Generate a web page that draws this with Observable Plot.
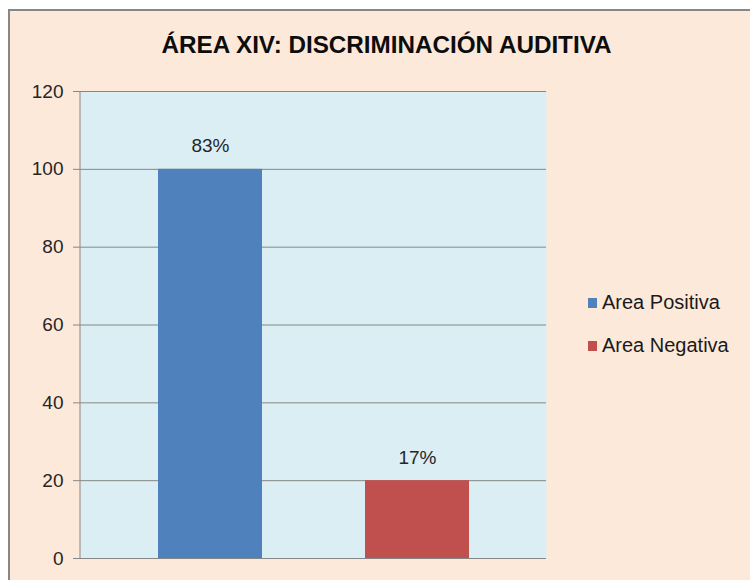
<!DOCTYPE html>
<html>
<head>
<meta charset="utf-8">
<script src="https://cdn.jsdelivr.net/npm/d3@7"></script>
<script src="https://cdn.jsdelivr.net/npm/@observablehq/plot@0.6"></script>
<style>
  html, body { margin: 0; padding: 0; background: #ffffff; }
  #chart { position: relative; width: 750px; height: 580px; overflow: hidden; font-family: "Liberation Sans", Arial, sans-serif; }
  #panel { position: absolute; left: 8px; top: 9px; width: 800px; height: 640px; background: #FDE9D9;
           border-left: 2px solid #878787; border-top: 2px solid #878787; }
  #plotwrap { position: absolute; left: 0; top: 0; }
  #title { position: absolute; left: 0; top: 0; }
  #legend { position: absolute; left: 588px; top: 288px; font-size: 20px; color: #1a1a1a; }
  .item { display: flex; align-items: center; height: 29px; margin-bottom: 14px; white-space: nowrap; }
  .sw { width: 9px; height: 10px; margin-right: 5px; }
  #plotwrap svg g[aria-label="y-axis tick"] path { stroke: #868686; }
</style>
</head>
<body>
<div id="chart">
  <div id="panel"></div>
  <div id="plotwrap"></div>
  <svg id="title" width="750" height="70">
    <text x="386.5" y="53" text-anchor="middle" font-family="'Liberation Sans Narrow','Arial Narrow','Liberation Sans',Arial,sans-serif"
      font-weight="bold" font-size="23" fill="#0d0d0d" textLength="450" lengthAdjust="spacingAndGlyphs">ÁREA XIV: DISCRIMINACIÓN AUDITIVA</text>
  </svg>
  <div id="legend"></div>
</div>
<script>
const series = ["Area Positiva", "Area Negativa"];
const values = [100, 20];
const valueLabels = ["83%", "17%"];
const colors = ["#4F81BD", "#C0504D"];
const yTicks = [0, 20, 40, 60, 80, 100, 120];

const rows = series.map((s, i) => ({series: s, value: values[i], label: valueLabels[i]}));

const leftLine = (index, scales, values, dims) => {
  const g = d3.create("svg:line")
    .attr("x1", dims.marginLeft).attr("x2", dims.marginLeft)
    .attr("y1", dims.marginTop).attr("y2", dims.height - dims.marginBottom)
    .attr("stroke", "#868686").attr("stroke-width", 1);
  return g.node();
};

const chart = Plot.plot({
  width: 750,
  height: 580,
  marginLeft: 80,
  marginRight: 204,
  marginTop: 91,
  marginBottom: 22,
  style: {background: "transparent", fontSize: "19px", fontFamily: "'Liberation Sans', Arial, sans-serif", color: "#262626"},
  x: {domain: series, range: [158, 469], paddingInner: 0.5, paddingOuter: 0, axis: null},
  y: {domain: [0, 120], ticks: yTicks, tickSize: 7, tickPadding: 10, label: null},
  color: {domain: series, range: colors},
  marks: [
    Plot.frame({fill: "#DBEEF4", stroke: "none"}),
    Plot.ruleY(yTicks.filter(d => d > 0), {stroke: "#868686"}),
    Plot.barY(rows, {x: "series", y: "value", fill: "series"}),
    Plot.ruleY([0], {stroke: "#868686"}),
    leftLine,
    Plot.text(rows, {x: "series", y: "value", text: "label", dy: -23, fontSize: 19, fill: "#262626"})
  ]
});
document.getElementById("plotwrap").appendChild(chart);

const legend = d3.select("#legend");
series.forEach((s, i) => {
  const item = legend.append("div").attr("class", "item");
  item.append("div").attr("class", "sw").style("background", colors[i]);
  item.append("span").text(s);
});
</script>
</body>
</html>
